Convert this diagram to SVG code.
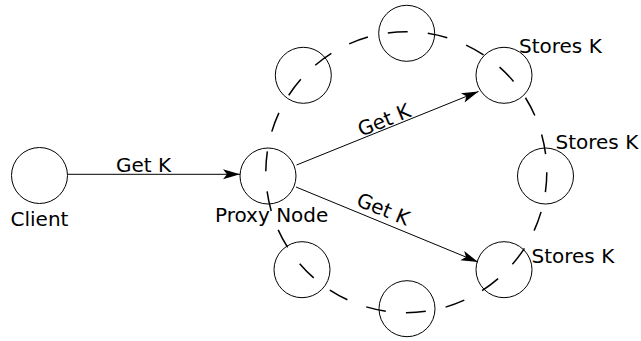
<svg xmlns="http://www.w3.org/2000/svg" width="641" height="341" viewBox="0 0 641 341">
<style>
.node{fill:none;stroke:#000;stroke-width:1}
.ring{fill:none;stroke:#000;stroke-width:1.5;stroke-dasharray:20 20.2}
.edge{fill:none;stroke:#000;stroke-width:1}
text{font-family:"DejaVu Sans","Verdana",sans-serif;font-size:20px;fill:#000}
</style>
<defs>
<marker id="arr" viewBox="-18 -6 19 12" refX="0" refY="0" markerWidth="19" markerHeight="12" markerUnits="userSpaceOnUse" orient="auto">
<path d="M0,0 L-17,-5 L-13,0 L-17,5 Z" fill="#000"/>
</marker>
</defs>
<rect width="641" height="341" fill="#fff"/>
<circle class="ring" cx="406.3" cy="172.2" r="140.5"/>
<g id="client"><circle class="node" cx="39.5" cy="175.5" r="28"/><text x="10.5" y="225.5">Client</text></g>
<g id="proxy"><circle class="node" cx="268" cy="176" r="28"/><text x="215" y="222">Proxy Node</text></g>
<g id="n1"><circle class="node" cx="303.3" cy="75.3" r="28"/></g>
<g id="n2"><circle class="node" cx="406.7" cy="33.3" r="28"/></g>
<g id="n3"><circle class="node" cx="504" cy="75.3" r="28"/><text x="519" y="52.5">Stores K</text></g>
<g id="n4"><circle class="node" cx="545.5" cy="176" r="28"/><text x="555.5" y="149.3">Stores K</text></g>
<g id="n5"><circle class="node" cx="504" cy="269.7" r="28"/><text x="531.5" y="262.7">Stores K</text></g>
<g id="n6"><circle class="node" cx="407" cy="308.7" r="28"/></g>
<g id="n7"><circle class="node" cx="302" cy="269.7" r="28"/></g>
<g id="edges">
<line class="edge" x1="67.5" y1="174.3" x2="240" y2="174.3" marker-end="url(#arr)"/>
<text x="116" y="172">Get K</text>
<line class="edge" x1="296.5" y1="165" x2="478.5" y2="91.5" marker-end="url(#arr)"/>
<text x="386.7" y="126.5" text-anchor="middle" transform="rotate(-22 386.7 126.5)">Get K</text>
<line class="edge" x1="296" y1="187" x2="478" y2="262" marker-end="url(#arr)"/>
<text x="380.7" y="215.5" text-anchor="middle" transform="rotate(22 380.7 215.5)">Get K</text>
</g>
</svg>
